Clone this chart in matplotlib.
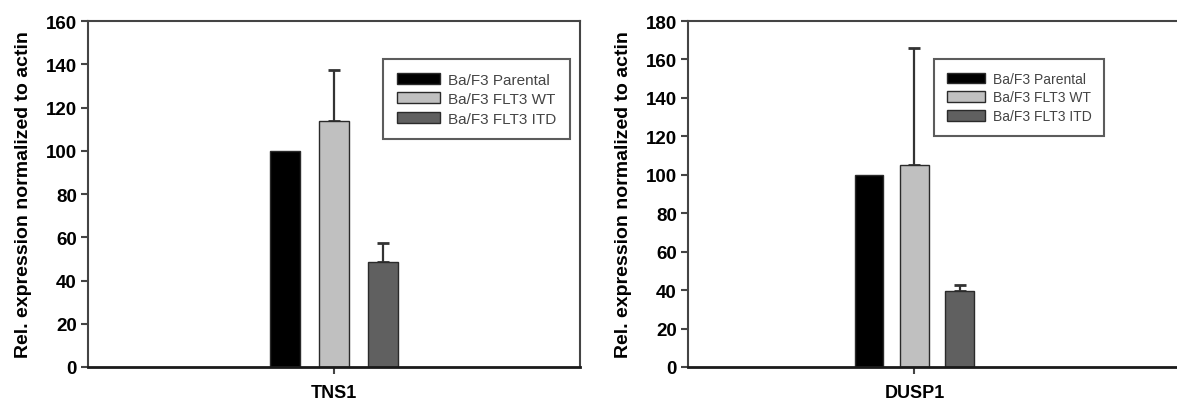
import matplotlib.pyplot as plt
import numpy as np

# qPCR expression of two genes in Ba/F3 cell lines
groups = ["Ba/F3 Parental", "Ba/F3 FLT3 WT", "Ba/F3 FLT3 ITD"]
colors = ["#000000", "#c0c0c0", "#606060"]

tns1_mean = [100, 113.6, 48.4]
tns1_err = [0, 23.7, 8.9]

dusp1_mean = [100, 105.1, 39.4]
dusp1_err = [0, 60.7, 3.3]

plt.rcParams["font.family"] = ["Liberation Sans", "DejaVu Sans"]

fig = plt.figure(figsize=(11.77, 4.02), dpi=100)
ax1 = fig.add_axes([88 / 1177, 34 / 402, 492 / 1177, 346 / 402])
ax2 = fig.add_axes([688 / 1177, 34 / 402, 495 / 1177, 346 / 402])

x = np.array([-1, 0, 1])
width = 0.63


def draw_panel(ax, means, errs, gene, ymax, xlim, show_right, leg_x, leg_fs):
    for i in range(3):
        ax.bar(x[i], means[i], width, color=colors[i], edgecolor="#2a2a2a",
               linewidth=1, label=groups[i], zorder=2)
        if errs[i] > 0:
            ax.errorbar(x[i], means[i], yerr=[[0], [errs[i]]], fmt="none",
                        ecolor="#333333", elinewidth=1.6, capsize=4,
                        capthick=2, zorder=1)
    ax.set_xlim(*xlim)
    ax.set_ylim(0, ymax)
    ax.set_yticks(np.arange(0, ymax + 1, 20))
    ax.set_xticks([0])
    ax.set_xticklabels([gene], fontsize=13, fontweight="bold")
    ax.tick_params(axis="x", direction="out", length=5, width=1.5,
                   color="#444444", pad=7)
    ax.tick_params(axis="y", direction="out", length=5, width=1.5,
                   color="#444444", labelsize=13.5, pad=3)
    for lab in ax.get_yticklabels():
        lab.set_fontweight("bold")
    ax.set_ylabel("Rel. expression normalized to actin", fontsize=14,
                  fontweight="bold", labelpad=10)
    for side in ["left", "top", "right"]:
        ax.spines[side].set_color("#444444")
        ax.spines[side].set_linewidth(1.5)
    ax.spines["bottom"].set_color("#1a1a1a")
    ax.spines["bottom"].set_linewidth(2)
    ax.spines["right"].set_visible(show_right)
    leg = ax.legend(loc="upper left", bbox_to_anchor=(leg_x, 0.89),
                    fontsize=leg_fs, frameon=True, fancybox=False,
                    handlelength=2.8, handleheight=0.75, handletextpad=0.55,
                    borderpad=0.9, labelspacing=0.35, borderaxespad=0)
    leg.get_frame().set_edgecolor("#333333")
    leg.get_frame().set_linewidth(1.5)
    for t in leg.get_texts():
        t.set_color("#444444")


draw_panel(ax1, tns1_mean, tns1_err, "TNS1", 160, (-5.02, 5.02), True, 0.60, 11)
draw_panel(ax2, dusp1_mean, dusp1_err, "DUSP1", 180, (-5.0, 5.93), False, 0.497, 10)

fig.savefig("out.png", dpi=100)
